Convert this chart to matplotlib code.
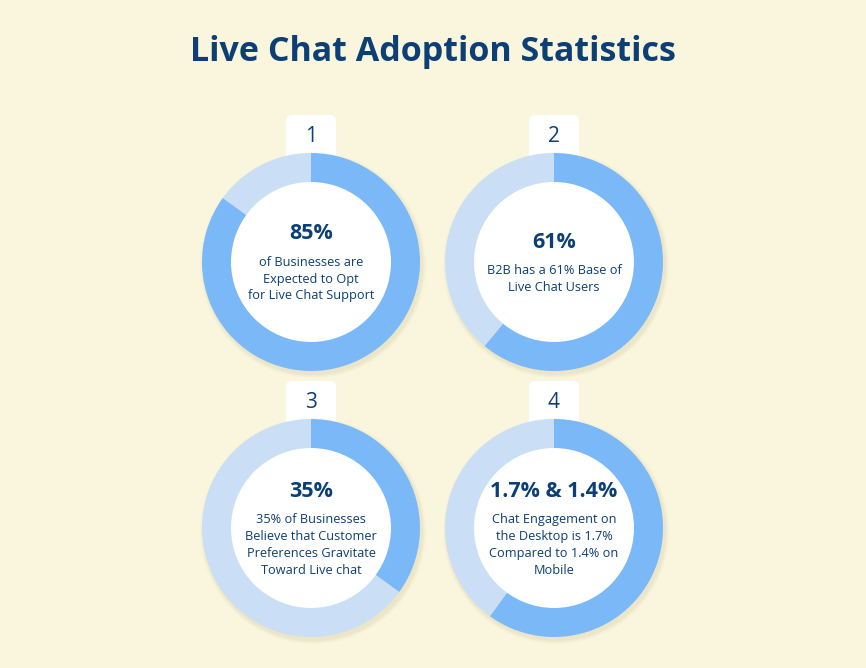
import matplotlib
matplotlib.use("Agg")
import matplotlib.pyplot as plt
from matplotlib.patches import FancyBboxPatch, Circle

# ---- data ----
title = "Live Chat Adoption Statistics"
numbers = ["1", "2", "3", "4"]
ring_share = [85, 61, 35, 60]          # blue share of each ring (%)
headlines = ["85%", "61%", "35%", "1.7% & 1.4%"]
descriptions = [
    "of Businesses are\nExpected to Opt\nfor Live Chat Support",
    "B2B has a 61% Base of\nLive Chat Users",
    "35% of Businesses\nBelieve that Customer\nPreferences Gravitate\nToward Live chat",
    "Chat Engagement on\nthe Desktop is 1.7%\nCompared to 1.4% on\nMobile",
]

# ---- style ----
BG = "#FAF6DD"
BLUE = "#7AB8F7"
LIGHT = "#CADFF5"
NAVY = "#0B3F75"
W, H = 866, 668
FONT = ["Open Sans", "DejaVu Sans"]

fig = plt.figure(figsize=(W / 100, H / 100), dpi=100, facecolor=BG)
ax = fig.add_axes([0, 0, 1, 1])
ax.set_facecolor(BG)

ax.text(W / 2, H - 52, title, ha="center", va="center", fontsize=24.5,
        fontweight="bold", color=NAVY, family=FONT)

centers = [(311, H - 262), (554, H - 262), (311, H - 528), (554, H - 528)]
R_OUT = 109
R_IN = 80
LINE = 17.2
GAP = 28

for i, (cx, cy) in enumerate(centers):
    # number tab
    tab = FancyBboxPatch((cx - 25, cy + R_OUT - 20), 50, 58,
                         boxstyle="round,pad=0,rounding_size=6",
                         facecolor="white", edgecolor="none", zorder=1)
    ax.add_patch(tab)
    ax.text(cx, cy + R_OUT + 17, numbers[i], ha="center", va="center",
            fontsize=15, color=NAVY, family=FONT, zorder=2)
    # soft shadow
    for k, a in enumerate([0.10, 0.07, 0.05]):
        ax.add_patch(Circle((cx + 2, cy - 3), R_OUT + 1 + k * 1.5,
                            facecolor="#B8AE80", edgecolor="none",
                            alpha=a, zorder=2))
    v = ring_share[i]
    ax.pie([v, 100 - v], colors=[BLUE, LIGHT], startangle=90,
           counterclock=False, center=(cx, cy), radius=R_OUT,
           wedgeprops=dict(width=R_OUT - R_IN + 2, edgecolor="none",
                           zorder=3),
           frame=True)
    ax.add_patch(Circle((cx, cy), R_IN, facecolor="white",
                        edgecolor="none", zorder=5))
    n = descriptions[i].count("\n") + 1
    span = GAP + (n - 1) * LINE
    head_y = cy + span / 2 - 3
    ax.text(cx, head_y, headlines[i], ha="center", va="center",
            fontsize=15.5, fontweight="bold", color=NAVY, family=FONT,
            zorder=6)
    body_c = head_y - GAP - (n - 1) * LINE / 2
    ax.text(cx, body_c, descriptions[i], ha="center", va="center",
            fontsize=9.2, color=NAVY, family=FONT, linespacing=1.4,
            zorder=6)

ax.set_xlim(0, W)
ax.set_ylim(0, H)
ax.set_aspect("equal")
ax.axis("off")
fig.savefig("out.png", dpi=100, facecolor=BG)
